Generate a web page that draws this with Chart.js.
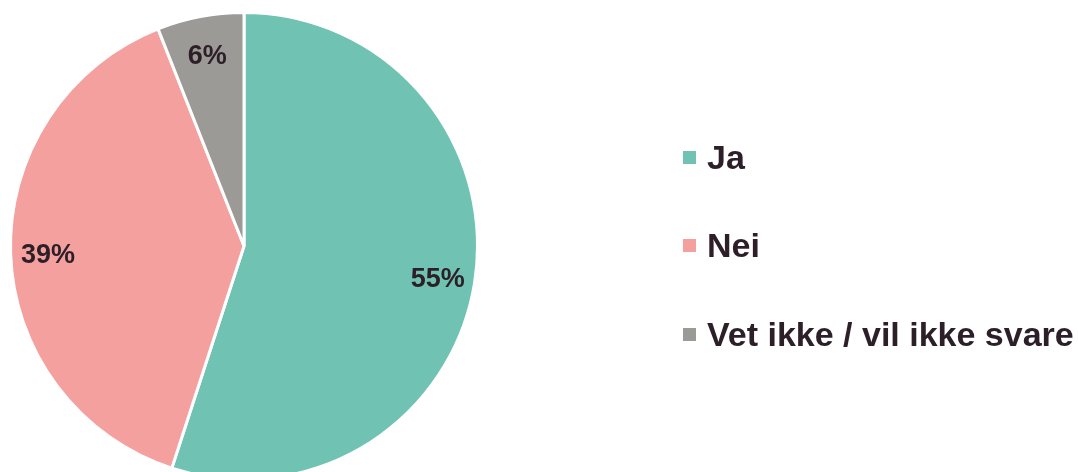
<!DOCTYPE html>
<html>
<head>
<meta charset="utf-8">
<script src="https://cdn.jsdelivr.net/npm/chart.js@4"></script>
<style>
  html, body { margin: 0; padding: 0; background: #fff; }
  #wrap { position: relative; width: 1078px; height: 472px; overflow: hidden; }
  #c { position: absolute; left: 0; top: 0; }
  #legend { position: absolute; left: 683px; top: 0; font-family: "Liberation Sans", Arial, sans-serif; font-weight: bold; font-size: 34px; color: #2d1f28; }
  .item { position: absolute; left: 0; white-space: nowrap; height: 40px; line-height: 40px; }
  .box { position: absolute; left: 0; top: 14px; width: 13px; height: 13px; }
  .txt { position: absolute; left: 24px; top: 0; }
</style>
</head>
<body>
<div id="wrap">
  <canvas id="c" width="1078" height="482"></canvas>
  <div id="legend"></div>
</div>
<script>
const categories = ["Ja", "Nei", "Vet ikke / vil ikke svare"];
const values = [55, 39, 6];
const valueLabels = ["55%", "39%", "6%"];
const colors = ["#70c3b3", "#f4a09e", "#9b9a96"];

const labelPlugin = {
  id: 'sliceLabels',
  afterDatasetsDraw(chart) {
    const ctx = chart.ctx;
    const meta = chart.getDatasetMeta(0);
    ctx.save();
    ctx.font = 'bold 27px "Liberation Sans", Arial, sans-serif';
    ctx.fillStyle = '#2d1f28';
    ctx.textAlign = 'center';
    ctx.textBaseline = 'middle';
    meta.data.forEach((arc, i) => {
      const p = arc.getProps(['x', 'y', 'startAngle', 'endAngle', 'outerRadius'], true);
      const mid = (p.startAngle + p.endAngle) / 2;
      const r = p.outerRadius * 0.84;
      ctx.fillText(valueLabels[i], p.x + Math.cos(mid) * r, p.y + Math.sin(mid) * r + 3);
    });
    ctx.restore();
  }
};

new Chart(document.getElementById('c'), {
  type: 'pie',
  data: {
    labels: categories,
    datasets: [{
      data: values,
      backgroundColor: colors,
      borderColor: '#ffffff',
      borderWidth: 3
    }]
  },
  options: {
    responsive: false,
    animation: false,
    layout: { padding: { left: 9, right: 599, top: 11, bottom: 1 } },
    plugins: { legend: { display: false }, tooltip: { enabled: false } }
  },
  plugins: [labelPlugin]
});

const legend = document.getElementById('legend');
const rowTops = [137, 225, 314];
categories.forEach((name, i) => {
  const item = document.createElement('div');
  item.className = 'item';
  item.style.top = rowTops[i] + 'px';
  item.innerHTML = '<span class="box" style="background:' + colors[i] + '"></span><span class="txt"></span>';
  item.querySelector('.txt').textContent = name;
  legend.appendChild(item);
});
</script>
</body>
</html>
